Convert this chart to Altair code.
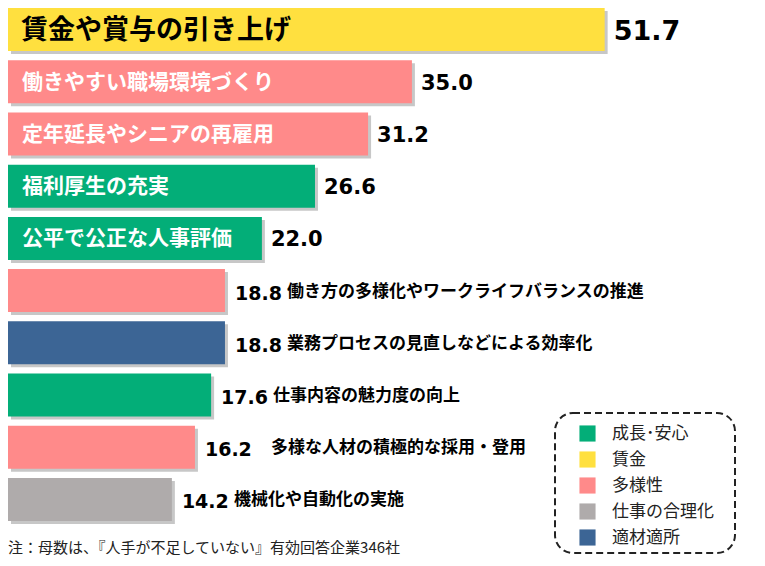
import altair as alt
import pandas as pd

categories = [
    "賃金や賞与の引き上げ",
    "働きやすい職場環境づくり",
    "定年延長やシニアの再雇用",
    "福利厚生の充実",
    "公平で公正な人事評価",
    "働き方の多様化やワークライフバランスの推進",
    "業務プロセスの見直しなどによる効率化",
    "仕事内容の魅力度の向上",
    "多様な人材の積極的な採用・登用",
    "機械化や自動化の実施",
]
values = [51.7, 35.0, 31.2, 26.6, 22.0, 18.8, 18.8, 17.6, 16.2, 14.2]
groups = ["賃金", "多様性", "多様性", "成長･安心", "成長･安心",
          "多様性", "適材適所", "成長･安心", "多様性", "仕事の合理化"]
legend_order = ["成長･安心", "賃金", "多様性", "仕事の合理化", "適材適所"]
legend_colors = ["#03AE78", "#FFE03F", "#FF8A8A", "#AFABAB", "#3C6595"]
footnote = "注：母数は、『人手が不足していない』有効回答企業346社"

df = pd.DataFrame({
    "cat": categories,
    "value": values,
    "group": groups,
    "rank": list(range(len(categories))),
    "label": [f"{v:.1f}" for v in values],
    "zero": [0.0] * len(categories),
})

JP = "Noto Sans CJK JP"
NUM = "DejaVu Sans"

y_enc = alt.Y("cat:N", sort=categories, axis=None,
              scale=alt.Scale(range=[0, 513], paddingInner=0.176, paddingOuter=0))
x_scale = alt.Scale(domain=[0, 64.9], nice=False, zero=True)
x_enc = alt.X("value:Q", axis=None, scale=x_scale)
x_zero = alt.X("zero:Q", axis=None, scale=x_scale)

base = alt.Chart(df)

shadow = base.mark_bar(color="#000000", opacity=0.22, xOffset=3, yOffset=3).encode(
    x=x_enc, y=y_enc)

bars = base.mark_bar().encode(
    x=x_enc, y=y_enc,
    color=alt.Color("group:N",
                    scale=alt.Scale(domain=legend_order, range=legend_colors),
                    legend=alt.Legend(orient="none", legendX=571, legendY=417,
                                      title=None, symbolType="square",
                                      symbolSize=260, symbolStrokeWidth=0,
                                      labelFont=JP, labelFontSize=17,
                                      labelColor="#222222", labelOffset=16,
                                      rowPadding=8, padding=0)),
)

inside_first = base.transform_filter("datum.rank == 0").mark_text(
    align="left", baseline="middle", dx=13, dy=1, font=JP, fontWeight="bold",
    fontSize=27, color="#000000").encode(x=x_zero, y=y_enc, text="cat:N")

inside_rest = base.transform_filter("datum.rank >= 1 && datum.rank <= 4").mark_text(
    align="left", baseline="middle", dx=14, dy=1, font=JP, fontWeight="bold",
    fontSize=21, color="#FFFFFF").encode(x=x_zero, y=y_enc, text="cat:N")

val_first = base.transform_filter("datum.rank == 0").mark_text(
    align="left", baseline="middle", dx=9, dy=2, font=NUM, fontWeight="bold",
    fontSize=27, color="#000000").encode(x=x_enc, y=y_enc, text="label:N")

val_mid = base.transform_filter("datum.rank >= 1 && datum.rank <= 4").mark_text(
    align="left", baseline="middle", dx=9, dy=2, font=NUM, fontWeight="bold",
    fontSize=21, color="#000000").encode(x=x_enc, y=y_enc, text="label:N")

val_low = base.transform_filter("datum.rank >= 5").mark_text(
    align="left", baseline="middle", dx=10, dy=3, font=NUM, fontWeight="bold",
    fontSize=19, color="#000000").encode(x=x_enc, y=y_enc, text="label:N")

cat_low = base.transform_filter("datum.rank >= 5 && datum.rank != 8").mark_text(
    align="left", baseline="middle", dx=62, dy=1, font=JP, fontWeight="bold",
    fontSize=17, color="#000000").encode(x=x_enc, y=y_enc, text="cat:N")

cat_wide = base.transform_filter("datum.rank == 8").mark_text(
    align="left", baseline="middle", dx=76, dy=1, font=JP, fontWeight="bold",
    fontSize=17, color="#000000").encode(x=x_enc, y=y_enc, text="cat:N")

legend_box = alt.Chart(alt.Data(values=[{"k": 1}])).mark_rect(
    fill="#FFFFFF", fillOpacity=0, stroke="#222222", strokeWidth=2,
    strokeDash=[7, 4], cornerRadius=18).encode(
    x=alt.value(547), x2=alt.value(727), y=alt.value(405), y2=alt.value(545))

note = alt.Chart(alt.Data(values=[{"t": footnote}])).mark_text(
    align="left", baseline="middle", font=JP, fontSize=15, color="#222222").encode(
    x=alt.value(0), y=alt.value(540), text="t:N")

chart = alt.layer(shadow, bars, inside_first, inside_rest, val_first, val_mid,
                  val_low, cat_low, cat_wide, legend_box, note).properties(
    width=749, height=550, padding=0
).configure_view(stroke=None)

chart.save("out.html", embed_options={"renderer": "svg", "actions": False})
